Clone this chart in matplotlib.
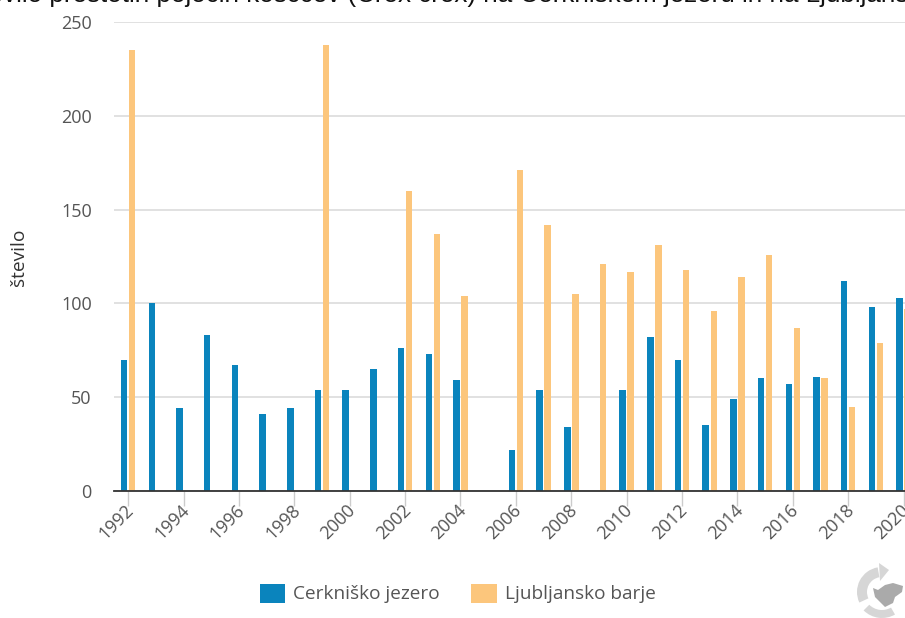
import matplotlib.pyplot as plt
from matplotlib.patches import Rectangle, Wedge, Polygon
from matplotlib.transforms import ScaledTranslation

years = list(range(1992, 2021))
cerknisko = [70, 100, 44, 83, 67, 41, 44, 54, 54, 65, 76, 73, 59, 0, 22, 54, 34, 0,
             54, 82, 70, 35, 49, 60, 57, 61, 112, 98, 103]
ljubljansko = [235, 0, 0, 0, 0, 0, 0, 238, 0, 0, 160, 137, 104, 0, 171, 142, 105, 121,
               117, 131, 118, 96, 114, 126, 87, 60, 45, 79, 97]
yticks = [0, 50, 100, 150, 200, 250]
xticks = list(range(1992, 2021, 2))
series_names = ["Cerkniško jezero", "Ljubljansko barje"]

BLUE = "#0a84bd"
ORANGE = "#fcc67c"
TEXT = "#555555"

plt.rcParams["font.family"] = ["Open Sans", "DejaVu Sans"]

W, H = 905, 618
fig = plt.figure(figsize=(W / 100, H / 100), dpi=100)
ax = fig.add_axes([114 / W, (H - 491) / H, (W - 114) / W, (491 - 22) / H])

bar_w = 0.235
ax.bar([y - 0.145 for y in years], cerknisko, width=bar_w, color=BLUE, zorder=3)
ax.bar([y + 0.145 for y in years], ljubljansko, width=bar_w, color=ORANGE, zorder=3)

ax.set_xlim(1991.49, 2020.05)
ax.set_ylim(0, 250)
ax.set_yticks(yticks)
ax.set_xticks(xticks)
ax.grid(axis="y", color="#dcdcdc", linewidth=1.2, zorder=1)
ax.set_axisbelow(True)
for side in ["top", "left", "right"]:
    ax.spines[side].set_visible(False)
ax.spines["bottom"].set_color("#333333")
ax.spines["bottom"].set_linewidth(1.3)
ax.spines["bottom"].set_zorder(5)
ax.tick_params(axis="y", length=0, pad=16, labelsize=13, labelcolor=TEXT)
ax.tick_params(axis="x", length=10.8, width=1, color="#cccccc", pad=1, labelsize=13, labelcolor=TEXT)
nudge = ScaledTranslation(3 / 100, 0, fig.dpi_scale_trans)
for label in ax.get_xticklabels():
    label.set_rotation(45)
    label.set_ha("right")
    label.set_va("center")
    label.set_rotation_mode("anchor")
    label.set_transform(label.get_transform() + nudge)

# overlay in pixel coordinates for the heading, axis caption, legend and logo
ov = fig.add_axes([0, 0, 1, 1], zorder=10)
ov.set_xlim(0, W)
ov.set_ylim(H, 0)
ov.axis("off")
ov.patch.set_alpha(0)

ov.text(-36, 2, "Število prestotih pojočih kosccev (Crex crex) na Cerkniškem jezeru in na Ljubljanskem barju",
        family=["Liberation Sans"], fontsize=18.7, color="#111111", ha="left", va="baseline")
ov.text(19, 257, "število", rotation=90, fontsize=13.8, color="#333333", ha="center", va="center")

ov.add_patch(Rectangle((260, 584), 25, 19, color=BLUE, lw=0))
ov.text(293, 594, series_names[0], fontsize=13.7, color=TEXT, va="center")
ov.add_patch(Rectangle((471, 584), 26, 19, color=ORANGE, lw=0))
ov.text(505, 594, series_names[1], fontsize=13.7, color=TEXT, va="center")

# recycling arrows around the country outline (y runs downward here)
grey = "#d6d6d6"
ov.add_patch(Wedge((882, 592), 25, 155, 260, width=10, color=grey, lw=0))
ov.add_patch(Wedge((882, 592), 26, 60, 135, width=8, color=grey, lw=0))
ov.add_patch(Polygon([(879, 563), (889, 570), (880, 581)], color=grey, lw=0))
ov.add_patch(Polygon([(873, 588), (878, 590), (885, 585), (893, 583), (903, 586), (902, 592),
                      (895, 597), (893, 603), (885, 607), (878, 600), (875, 597)],
                     color="#aaaaaa", lw=0))

fig.savefig("out.png", dpi=100)
